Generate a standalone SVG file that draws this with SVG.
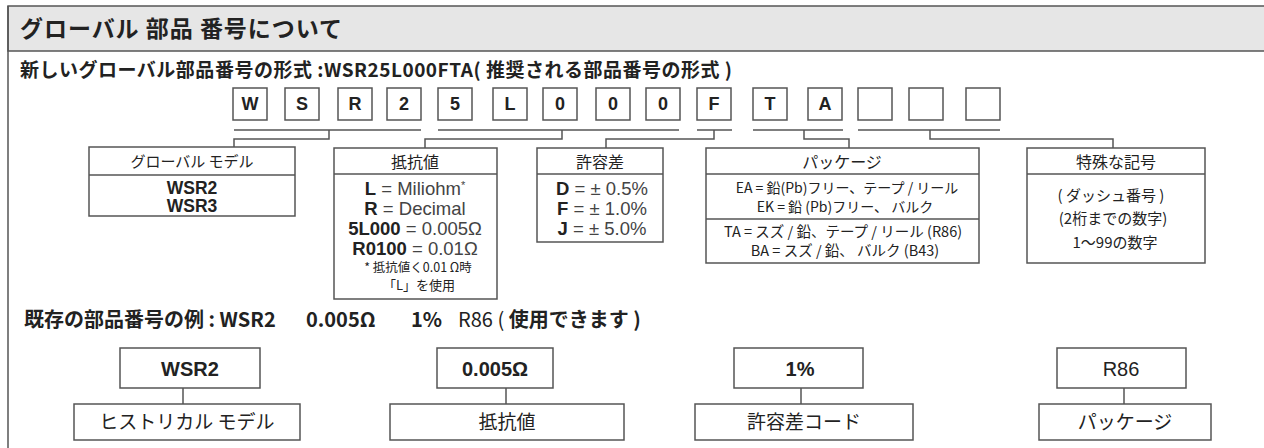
<svg xmlns="http://www.w3.org/2000/svg" width="1264" height="448" viewBox="0 0 1264 448">
<style>
.t{font-family:'Liberation Sans','Noto Sans CJK JP',sans-serif;fill:#222}
.j{font-family:'Noto Sans CJK JP','Liberation Sans',sans-serif;fill:#222}
.b{font-weight:bold}
.n{font-weight:normal}
.m{text-anchor:middle}
.box{fill:#fff;stroke:#555;stroke-width:1.5}
.ln{fill:none;stroke:#555;stroke-width:1.5}
.g{fill:#444;font-weight:normal}
</style>
<rect width="1264" height="448" fill="#fff"/>
<g id="frame">
<rect x="8" y="6" width="1270" height="45" fill="#e6e6e6" stroke="#555" stroke-width="1.5"/>
<line x1="8" y1="6" x2="8" y2="448" stroke="#555" stroke-width="1.5"/>
<text class="j b" x="20" y="37" font-size="23" textLength="322" lengthAdjust="spacing">グローバル 部品 番号について</text>
<text class="j b" x="20" y="77" font-size="19" textLength="712" lengthAdjust="spacing">新しいグローバル部品番号の形式 :WSR25L000FTA( 推奨される部品番号の形式 )</text>
</g>
<g id="chars" class="t b" font-size="18">
<rect class="box" x="233" y="88" width="34" height="32"/><text class="m" x="250" y="110">W</text>
<rect class="box" x="285" y="88" width="34" height="32"/><text class="m" x="302" y="110">S</text>
<rect class="box" x="338" y="88" width="34" height="32"/><text class="m" x="355" y="110">R</text>
<rect class="box" x="387" y="88" width="34" height="32"/><text class="m" x="404" y="110">2</text>
<rect class="box" x="438" y="88" width="34" height="32"/><text class="m" x="455" y="110">5</text>
<rect class="box" x="493" y="88" width="34" height="32"/><text class="m" x="510" y="110">L</text>
<rect class="box" x="543" y="88" width="34" height="32"/><text class="m" x="560" y="110">0</text>
<rect class="box" x="596" y="88" width="34" height="32"/><text class="m" x="613" y="110">0</text>
<rect class="box" x="646" y="88" width="34" height="32"/><text class="m" x="663" y="110">0</text>
<rect class="box" x="697" y="88" width="34" height="32"/><text class="m" x="714" y="110">F</text>
<rect class="box" x="753" y="88" width="34" height="32"/><text class="m" x="770" y="110">T</text>
<rect class="box" x="808" y="88" width="34" height="32"/><text class="m" x="825" y="110">A</text>
<rect class="box" x="858" y="88" width="34" height="32"/>
<rect class="box" x="909" y="88" width="34" height="32"/>
<rect class="box" x="966" y="88" width="34" height="32"/>
</g>
<g id="connectors" class="ln">
<path d="M234 130H421M329 130V139H234V147"/>
<path d="M438 130H679M562 130V139H425V148"/>
<path d="M697 130H732M714 130V139H606V148"/>
<path d="M753 130H843M804 130V139H849V148"/>
<path d="M858 130H1000M930 130V139H1113V148"/>
<path d="M183 388V404M506 388V404M801 388V404M1124 388V404"/>
</g>
<g id="global-model">
<rect class="box" x="89" y="147" width="206" height="69"/>
<line class="ln" x1="89" y1="175" x2="295" y2="175"/>
<text class="j m" x="192" y="167" font-size="15">グローバル モデル</text>
<text class="t b m" x="192" y="194" font-size="17.5">WSR2</text>
<text class="t b m" x="192" y="212" font-size="17.5">WSR3</text>
</g>
<g id="resistance">
<rect class="box" x="334" y="148" width="163" height="151"/>
<line class="ln" x1="334" y1="174" x2="497" y2="174"/>
<text class="j m" x="415" y="168" font-size="16">抵抗値</text>
<text class="t b m" x="415" y="195" font-size="18.5">L<tspan class="g"> = Miliohm</tspan><tspan class="g" font-size="11" dy="-6">*</tspan></text>
<text class="t b m" x="415" y="215" font-size="18.5">R<tspan class="g"> = Decimal</tspan></text>
<text class="t b m" x="415" y="235" font-size="18.5">5L000<tspan class="g"> = 0.005Ω</tspan></text>
<text class="t b m" x="415" y="255" font-size="18.5">R0100<tspan class="g"> = 0.01Ω</tspan></text>
<text class="j m" x="418" y="272" font-size="12.5">* 抵抗値く0.01 Ω時</text>
<text class="j m" x="419" y="290" font-size="13">「L」を使用</text>
</g>
<g id="tolerance">
<rect class="box" x="537" y="148" width="126" height="94"/>
<line class="ln" x1="537" y1="174" x2="663" y2="174"/>
<text class="j m" x="600" y="168" font-size="16">許容差</text>
<text class="t b m" x="602" y="195" font-size="18.5">D<tspan class="g"> = ± 0.5%</tspan></text>
<text class="t b m" x="602" y="215" font-size="18.5">F<tspan class="g"> = ± 1.0%</tspan></text>
<text class="t b m" x="602" y="235" font-size="18.5">J<tspan class="g"> = ± 5.0%</tspan></text>
</g>
<g id="package">
<rect class="box" x="706" y="148" width="273" height="115"/>
<line class="ln" x1="706" y1="174" x2="979" y2="174"/>
<line class="ln" x1="706" y1="219" x2="979" y2="219"/>
<text class="j m" x="842" y="168" font-size="16">パッケージ</text>
<text class="j m" x="847" y="193" font-size="14">EA = 鉛(Pb)フリー、テープ / リール</text>
<text class="j m" x="845" y="212" font-size="14">EK = 鉛 (Pb)フリー、 バルク</text>
<text class="j m" x="843" y="237" font-size="14.5">TA = スズ / 鉛、テープ / リール (R86)</text>
<text class="j m" x="845" y="256" font-size="14.5">BA = スズ / 鉛、 バルク (B43)</text>
</g>
<g id="special">
<rect class="box" x="1027" y="148" width="178" height="115"/>
<line class="ln" x1="1027" y1="174" x2="1205" y2="174"/>
<text class="j m" x="1116" y="168" font-size="16">特殊な記号</text>
<text class="j m" x="1111" y="201" font-size="15">( ダッシュ番号 )</text>
<text class="j m" x="1113" y="224" font-size="15">(2桁までの数字)</text>
<text class="j m" x="1115" y="248" font-size="15">1〜99の数字</text>
</g>
<g id="example" class="j b" font-size="20">
<text x="24" y="327">既存の部品番号の例 : WSR2</text>
<text x="306" y="327">0.005Ω</text>
<text x="411" y="327">1%</text>
<text x="458" y="327"><tspan class="n">R86 (</tspan> 使用できます )</text>
</g>
<g id="ex-model">
<rect class="box" x="120" y="348" width="140" height="40"/>
<text class="t b m" x="190" y="376" font-size="20">WSR2</text>
<rect class="box" x="74" y="404" width="226" height="36"/>
<text class="j m" x="187" y="429" font-size="19">ヒストリカル モデル</text>
</g>
<g id="ex-resistance">
<rect class="box" x="437" y="348" width="116" height="40"/>
<text class="t b m" x="495" y="376" font-size="20">0.005Ω</text>
<rect class="box" x="390" y="404" width="234" height="36"/>
<text class="j m" x="507" y="429" font-size="19">抵抗値</text>
</g>
<g id="ex-tolerance">
<rect class="box" x="734" y="348" width="129" height="40"/>
<text class="t b m" x="800" y="376" font-size="20">1%</text>
<rect class="box" x="695" y="404" width="218" height="36"/>
<text class="j m" x="804" y="429" font-size="19">許容差コード</text>
</g>
<g id="ex-package">
<rect class="box" x="1057" y="348" width="129" height="40"/>
<text class="t m" x="1121" y="376" font-size="20">R86</text>
<rect class="box" x="1039" y="404" width="172" height="36"/>
<text class="j m" x="1125" y="429" font-size="19">パッケージ</text>
</g>
</svg>
